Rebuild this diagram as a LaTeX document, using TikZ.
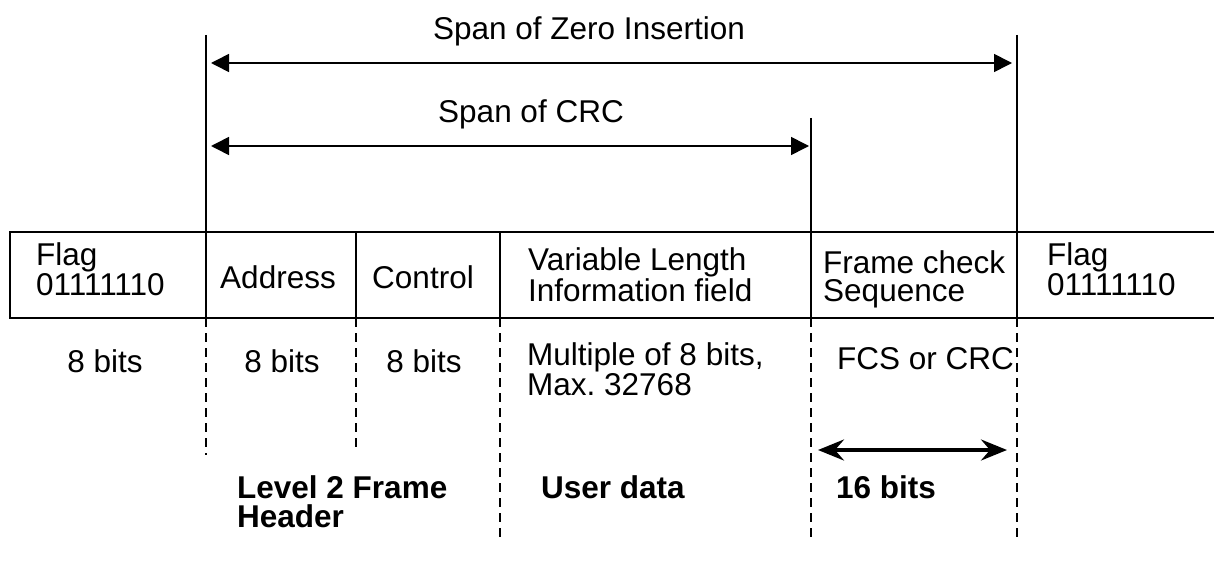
\documentclass[tikz,border=0pt]{standalone}
\usepackage{fontspec}
\setmainfont{Liberation Sans}
\usetikzlibrary{arrows.meta}
\frenchspacing
\begin{document}
\begin{tikzpicture}[x=1pt,y=-1pt,
  lbl/.style={font=\fontsize{31.5}{27}\selectfont, inner sep=0pt, align=left},
  boldlbl/.style={font=\fontsize{31.5}{29}\selectfont\bfseries, inner sep=0pt, align=left},
  rule/.style={line width=1.6pt},
  guide/.style={line width=1.4pt, dash pattern=on 9pt off 6pt},
  span/.style={line width=1.6pt,
    {Triangle[length=18pt,width=18pt]}-{Triangle[length=18pt,width=18pt]}},
  bitwidth/.style={line width=3.5pt,
    {Stealth[length=26pt,width=21pt,inset=9pt]}-{Stealth[length=26pt,width=21pt,inset=9pt]}},
]
\useasboundingbox (0,0) rectangle (1214,572);

% frame outline (open on the right)
\draw[rule] (1214,232) -- (10,232) -- (10,318) -- (1214,318);

% field boundaries: solid inside the frame, dashed below it
\coordinate (b1t) at (206,35);   \coordinate (b1m) at (206,318); \coordinate (b1b) at (206,455);
\coordinate (b2t) at (356,232);  \coordinate (b2m) at (356,318); \coordinate (b2b) at (356,450);
\coordinate (b3t) at (500,232);  \coordinate (b3m) at (500,318); \coordinate (b3b) at (500,540);
\coordinate (b4t) at (811,118);  \coordinate (b4m) at (811,318); \coordinate (b4b) at (811,540);
\coordinate (b5t) at (1017,35);  \coordinate (b5m) at (1017,318); \coordinate (b5b) at (1017,540);
\foreach \b in {b1,b2,b3,b4,b5}{
  \draw[rule] (\b t) -- (\b m);
  \draw[guide] (\b m) -- (\b b);
}

% spans
\coordinate (zl) at (206,63);  \coordinate (zr) at (1017,63);
\coordinate (cl) at (206,146); \coordinate (cr) at (811,146);
\draw[span, shorten <=5pt, shorten >=5pt] (zl) -- (zr);
\draw[span, shorten <=5pt, shorten >=2pt] (cl) -- (cr);
\node[lbl, anchor=base] (zi) at (589,40) {Span of Zero Insertion};
\node[lbl, anchor=base] (crc) at (531,123) {Span of CRC};

% field names (multi-line nodes are placed by their last baseline)
\node[lbl, anchor=base west] (flag1) at (36,295) {Flag\\01111110};
\node[lbl, anchor=base] (addr) at (278,288) {Address};
\node[lbl, anchor=base] (ctrl) at (423,288) {Control};
\node[lbl, anchor=base west, font=\fontsize{31.5}{28}\selectfont] (info) at (528,301) {Variable Length\\Information field};
\node[lbl, anchor=base west, font=\fontsize{31.5}{28}\selectfont] (fcs) at (823,301) {Frame check\\Sequence};
\node[lbl, anchor=base west] (flag2) at (1047,295) {Flag\\01111110};

% field sizes
\node[lbl, anchor=base] (s1) at (105,372) {8 bits};
\node[lbl, anchor=base] (s2) at (282,372) {8 bits};
\node[lbl, anchor=base] (s3) at (424,372) {8 bits};
\node[lbl, anchor=base west] (s4) at (527,395) {Multiple of 8 bits,\\Max. 32768};
\node[lbl, anchor=base west] (s5) at (837,369) {FCS or CRC};

% width of the check sequence
\coordinate (wl) at (811,450); \coordinate (wr) at (1017,450);
\draw[bitwidth, shorten <=7pt, shorten >=10pt] (wl) -- (wr);

% groupings
\node[boldlbl, anchor=base west] (hdr) at (237,527) {Level 2 Frame\\Header};
\node[boldlbl, anchor=base west] (usr) at (541,498) {User data};
\node[boldlbl, anchor=base west] (sixteen) at (836,498) {16 bits};
\end{tikzpicture}
\end{document}
